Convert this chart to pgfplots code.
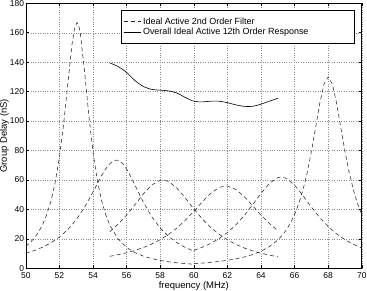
\documentclass[border=0pt]{standalone}
\usepackage{fontspec}
\setmainfont{Liberation Sans}
\usepackage{pgfplots}
\pgfplotsset{compat=1.18}

\begin{document}
\begin{tikzpicture}
\begin{axis}[
  scale only axis,
  width=336bp, height=265bp,
  xmin=50, xmax=70, ymin=0, ymax=180,
  xtick={50,52,...,70},
  ytick={0,20,...,180},
  /pgf/number format/assume math mode=true,
  tick label style={font=\fontsize{8.5}{9}\selectfont},
  xticklabel style={inner sep=0.5bp, yshift=-3.5bp},
  yticklabel style={inner xsep=1.5bp, inner ysep=0.3bp},
  major tick length=3bp,
  axis line style={line width=0.6bp},
  every tick/.style={black, line width=0.5bp},
  grid=major,
  grid style={dotted, line width=0.45bp, black!45},
  xlabel={frequency (MHz)},
  ylabel={Group Delay (nS)},
  label style={font=\fontsize{9.5}{10}\selectfont},
  xlabel style={at={(axis description cs:0.5,0)}, anchor=north, inner sep=0pt, yshift=-13.5bp},
  ylabel style={at={(axis description cs:-0.0774,0.5)}, anchor=north, inner sep=0pt},
  legend cell align=left,
  legend style={at={(0.979,0.9736)}, anchor=north east, draw=black, line width=0.5bp,
    fill=white, font=\fontsize{9}{10}\selectfont,
    inner xsep=2bp, inner ysep=6bp, row sep=0bp, nodes={inner ysep=1.2bp}},
  filt/.style={black!85, line width=0.55bp, dash pattern=on 4bp off 3bp},
]

% second order section centred near 53 MHz
\addplot[filt] coordinates {
 (50,14.86) (50.25,17.34) (50.5,20.47) (50.75,24.47) (51,29.68) (51.25,36.56)
 (51.5,45.81) (51.75,58.37) (52,75.43) (52.25,97.96) (52.5,125.27) (52.75,151.94)
 (52.9,162.96) (53.05,167) (53.15,164.96) (53.25,159.14) (53.5,133.6) (53.75,104.06)
 (54,78.99) (54.25,60.12) (54.5,46.44) (54.75,36.56) (55,29.33) (55.5,19.86)
 (56,14.22) (56.5,10.64) (57,8.24) (57.5,6.56) (58,5.34) (58.5,4.43)
 (59,3.74) (59.5,3.19) (60,2.75)
};
\addlegendentry{Ideal Active 2nd Order Filter}

% section near 55.4 MHz
\addplot[filt, forget plot] coordinates {
 (50,10.18) (50.5,12.01) (51,14.33) (51.5,17.31) (52,21.21) (52.5,26.31)
 (53,32.98) (53.5,41.52) (54,51.83) (54.5,62.67) (54.75,67.43) (55,71.07)
 (55.2,72.88) (55.4,73.5) (55.5,73.32) (55.75,71.32) (56,67.43) (56.25,62.25)
 (56.5,56.43) (57,44.82) (57.5,34.96) (58,27.32) (58.5,21.60) (59,17.33)
 (59.5,14.13) (60,11.69)
};

% section near 58.15 MHz
\addplot[filt, forget plot] coordinates {
 (55,24.90) (55.5,30.03) (56,36.21) (56.5,43.27) (57,50.51) (57.5,56.60)
 (58,59.81) (58.15,60) (58.5,58.97) (59,54.41) (59.5,47.66) (60,40.37)
 (60.5,33.62) (61,27.85) (61.5,23.13) (62,19.32) (62.5,16.27) (63,13.82)
 (63.5,11.84) (64,10.24) (64.5,8.92) (65,7.83)
};

% section near 61.9 MHz
\addplot[filt, forget plot] coordinates {
 (55,8.12) (55.5,9.22) (56,10.55) (56.5,12.15) (57,14.10) (57.5,16.49)
 (58,19.42) (58.5,23.03) (59,27.43) (59.5,32.69) (60,38.70) (60.5,45.06)
 (61,50.89) (61.5,54.91) (61.9,56) (62,55.93) (62.5,53.61) (63,48.70)
 (63.5,42.52) (64,36.22) (64.5,30.49) (65,25.57)
};

% section near 65.2 MHz
\addplot[filt, forget plot] coordinates {
 (60,12.15) (60.5,14.25) (61,16.86) (61.5,20.15) (62,24.28) (62.5,29.44)
 (63,35.74) (63.5,43.10) (64,50.88) (64.5,57.71) (65,61.62) (65.2,62)
 (65.5,61.16) (66,56.51) (66.5,49.34) (67,41.56) (67.5,34.39) (68,28.31)
 (68.5,23.37) (69,19.43) (69.5,16.29) (70,13.79)
};

% section near 68 MHz
\addplot[filt, forget plot] coordinates {
 (60,3.10) (60.5,3.51) (61,4.02) (61.5,4.64) (62,5.41) (62.5,6.39)
 (63,7.65) (63.5,9.31) (64,11.57) (64.5,14.71) (65,19.23) (65.25,22.26)
 (65.5,26.0) (65.75,30.66) (66,36.52) (66.25,43.92) (66.5,53.28) (66.75,65.0)
 (67,79.27) (67.25,95.59) (67.5,112.07) (67.75,125.0) (68,130) (68.25,125.0)
 (68.5,112.07) (68.75,95.59) (69,79.27) (69.25,65.0) (69.5,53.28) (69.75,43.92)
 (70,36.52)
};

% overall response of the cascade
\addplot[black, line width=0.6bp, smooth] coordinates {
 (55,139.5) (55.5,137) (56,133) (56.5,127.5) (57,123.5) (57.5,121.5)
 (58,121) (58.5,120.5) (59,119) (59.5,116) (60,113.5) (60.5,113)
 (61,113.5) (61.5,113.5) (62,112.5) (62.5,111) (63,110) (63.5,110)
 (64,111.5) (64.5,113.5) (65,115.5)
};
\addlegendentry{Overall Ideal Active 12th Order Response\hspace*{42bp}}

\end{axis}
\end{tikzpicture}
\end{document}
